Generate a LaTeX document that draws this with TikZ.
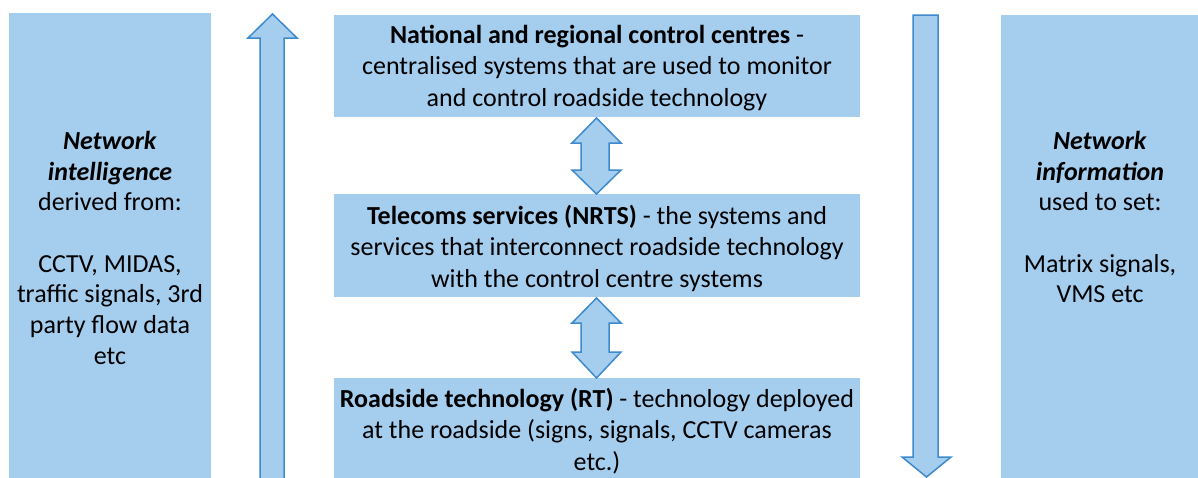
\documentclass[tikz,border=0pt]{standalone}
\usepackage{fontspec}
\setmainfont{Carlito}
\definecolor{boxfill}{HTML}{A4CDEE}
\definecolor{arrowline}{HTML}{3E8ACC}
\tikzset{
  panel/.style={fill=boxfill, draw=none},
  txt/.style={align=center, inner sep=0pt, font=\fontsize{26}{31.5}\selectfont, text=black},
  sidetxt/.style={align=center, inner sep=0pt, font=\fontsize{26}{30.7}\selectfont, text=black, anchor=north},
  bigarrow/.style={fill=boxfill, draw=arrowline, line width=1.5pt, line join=miter}
}
\begin{document}
\begin{tikzpicture}[x=1pt,y=-1pt]
\useasboundingbox (0,0) rectangle (1198,477);
\fill[white] (0,0) rectangle (1198,477);
% side panels
\node[panel, minimum width=202pt, minimum height=466pt, anchor=north west, inner sep=0pt] (left) at (9,13) {};
\node[panel, minimum width=197pt, minimum height=464pt, anchor=north west, inner sep=0pt] (right) at (1001,15) {};
% centre boxes
\node[panel, minimum width=526pt, minimum height=102pt, anchor=north west, inner sep=0pt] (top) at (334,15) {};
\node[panel, minimum width=526pt, minimum height=103pt, anchor=north west, inner sep=0pt] (mid) at (334,194) {};
\node[panel, minimum width=526pt, minimum height=101pt, anchor=north west, inner sep=0pt] (bot) at (334,378) {};
% texts
\node[txt] (toptxt) at (597,68) {\textbf{National and regional control centres} -\\centralised systems that are used to monitor\\and control roadside technology};
\node[txt] (midtxt) at (597,248) {\textbf{Telecoms services (NRTS)} - the systems and\\services that interconnect roadside technology\\with the control centre systems};
\node[txt] (bottxt) at (597,431) {\textbf{Roadside technology (RT)} - technology deployed\\at the roadside (signs, signals, CCTV cameras\\etc.)};
\node[sidetxt] (lefttxt) at (110,131) {\textbf{\textit{Network}}\\\textbf{\textit{intelligence}}\\derived from:\\[30.7pt]CCTV, MIDAS,\\traffic signals, 3rd\\party flow data\\etc};
\node[sidetxt] (righttxt) at (1100,131) {\textbf{\textit{Network}}\\\textbf{\textit{information}}\\used to set:\\[30.7pt]Matrix signals,\\VMS etc};
% up arrow (left)
\draw[bigarrow] (260,480) -- (260,38) -- (248,38) -- (272.5,14) -- (297,38) -- (284,38) -- (284,480);
% down arrow (right)
\draw[bigarrow] (913,15) -- (913,457) -- (902,457) -- (926.5,477) -- (951,457) -- (938,457) -- (938,15) -- cycle;
% double arrows
\draw[bigarrow] (596.5,118) -- (621,143) -- (609,143) -- (609,170) -- (621,170) -- (596.5,194) -- (572,170) -- (581,170) -- (581,143) -- (572,143) -- cycle;
\draw[bigarrow] (596.5,298) -- (621,323) -- (609,323) -- (609,352) -- (621,352) -- (596.5,378) -- (572,352) -- (581,352) -- (581,323) -- (572,323) -- cycle;
\end{tikzpicture}
\end{document}
